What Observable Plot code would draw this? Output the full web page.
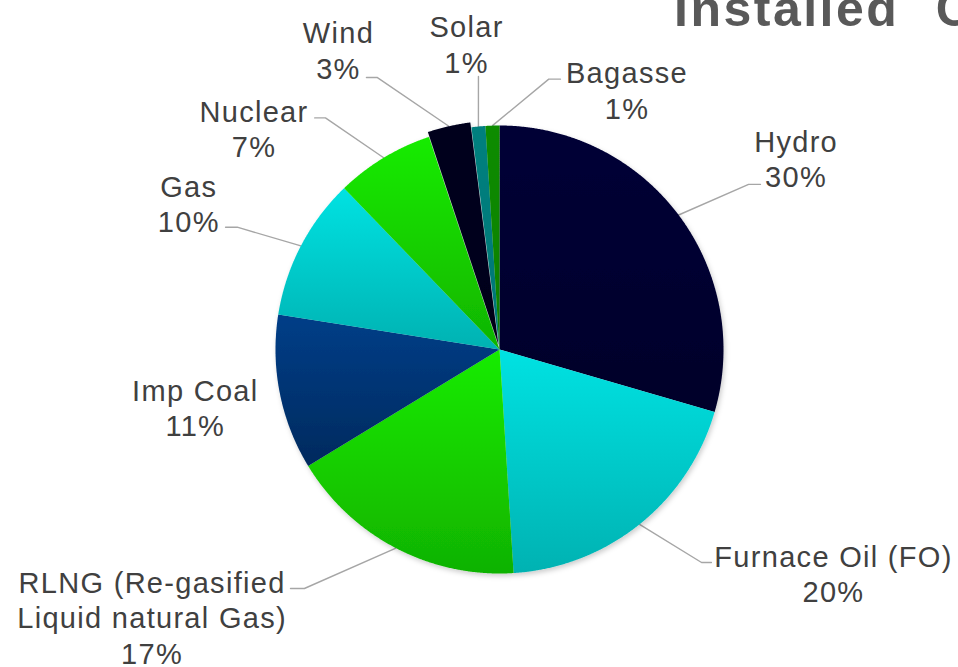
<!DOCTYPE html>
<html><head><meta charset="utf-8">
<script src="https://cdn.jsdelivr.net/npm/d3@7"></script>
<script src="https://cdn.jsdelivr.net/npm/@observablehq/plot@0.6"></script>
<style>
html,body{margin:0;padding:0;background:#fff;overflow:hidden;}
</style></head><body><div id="chart"></div>
<script>
// ---- data ----
const sources = ["Hydro","Furnace Oil (FO)","RLNG (Re-gasified Liquid natural Gas)","Imp Coal","Gas","Nuclear","Wind","Solar","Bagasse"];
const shares = [29.5,19.5,17.3,11.2,10.3,7.1,3.1,1.0,1.0];
const labelText = ["Hydro","Furnace Oil (FO)","RLNG (Re-gasified\nLiquid natural Gas)","Imp Coal","Gas","Nuclear","Wind","Solar","Bagasse"];
const titleText = "Installed Capacity";

// ---- styles ----
const topColors    = ["#050536","#00e2e2","#19ec00","#053e88","#00e2e2","#19ec00","#04041f","#00807f","#0a8c00"];
const bottomColors = ["#03032a","#00b2b2","#10b200","#032a5e","#00b2b2","#10b400","#030318","#007676","#087f00"];

// ---- layout (in pie-radius units, origin at pie centre) ----
const explode = [0,0,0,0,0,0,0.022,0,0];
const labelAt = [[1.324,0.902],[1.491,-0.951],[-1.551,-1.066],[-1.358,-0.208],[-1.387,0.702],[-1.096,1.037],[-0.719,1.387],[-0.147,1.414],[0.569,1.208]];
const elbowAt = [[1.112,0.737],[0.902,-0.951],[-0.871,-1.067],null,[-1.171,0.546],[-0.777,1.034],[-0.545,1.214],[-0.094,1.219],[0.220,1.207]];
const endAt   = [[1.165,0.737],[0.946,-0.951],[-0.933,-1.067],null,[-1.223,0.546],[-0.825,1.034],[-0.594,1.214],[-0.094,1.219],[0.272,1.207]];

const total = d3.sum(shares);
let acc = 0;
const slices = sources.map((s, i) => {
  const a0 = acc / total * 2 * Math.PI; acc += shares[i];
  const a1 = acc / total * 2 * Math.PI;
  return {i, s, a0, a1, mid: (a0 + a1) / 2};
});

const wedgePts = [];
for (const sl of slices) {
  const ox = explode[sl.i] * Math.sin(sl.mid), oy = explode[sl.i] * Math.cos(sl.mid);
  wedgePts.push({key: sl.s, i: sl.i, x: ox, y: oy});
  const n = Math.max(2, Math.ceil((sl.a1 - sl.a0) / (Math.PI / 720)));
  for (let k = 0; k <= n; k++) {
    const a = sl.a0 + (sl.a1 - sl.a0) * k / n;
    wedgePts.push({key: sl.s, i: sl.i, x: ox + Math.sin(a), y: oy + Math.cos(a)});
  }
  wedgePts.push({key: sl.s, i: sl.i, x: ox, y: oy});
}

const leaderPts = [];
for (const sl of slices) {
  if (!elbowAt[sl.i]) continue;
  const r = 1 + explode[sl.i];
  leaderPts.push({key: sl.s, x: r * Math.sin(sl.mid), y: r * Math.cos(sl.mid)});
  leaderPts.push({key: sl.s, x: elbowAt[sl.i][0], y: elbowAt[sl.i][1]});
  leaderPts.push({key: sl.s, x: endAt[sl.i][0], y: endAt[sl.i][1]});
}

const labels = slices.map(sl => ({
  x: labelAt[sl.i][0], y: labelAt[sl.i][1],
  text: labelText[sl.i] + "\n" + Math.round(shares[sl.i] / total * 100) + "%"
}));

const FS = 29;
const plot = Plot.plot({
  width: 958, height: 667,
  marginLeft: 275, marginRight: 235, marginTop: 125, marginBottom: 94,
  x: {domain: [-1, 1], axis: null},
  y: {domain: [-1, 1], axis: null},
  color: {domain: sources, range: topColors},
  style: {fontFamily: "'Liberation Sans', Arial, sans-serif", letterSpacing: "1.3px", background: "#fff", overflow: "hidden"},
  marks: [
    Plot.line(leaderPts, {x: "x", y: "y", z: "key", stroke: "#a6a6a6", strokeWidth: 1.4, curve: "linear"}),
    Plot.line(wedgePts, {x: "x", y: "y", z: "key", fill: "key", stroke: "none", curve: "linear"}),
    Plot.text(labels, {x: "x", y: "y", text: "text", fontSize: FS, lineHeight: 1.22, fill: "#404040",
      textAnchor: "middle", lineAnchor: "top", dy: -0.71 * FS})
  ]
});

const svg = d3.select(plot);
const defs = svg.insert("defs", ":first-child");
slices.forEach(sl => {
  const g = defs.append("linearGradient").attr("id", "grad" + sl.i)
    .attr("x1", 0).attr("y1", 0).attr("x2", 0).attr("y2", 1);
  g.append("stop").attr("offset", "0%").attr("stop-color", topColors[sl.i]);
  g.append("stop").attr("offset", "100%").attr("stop-color", bottomColors[sl.i]);
});
const f = defs.append("filter").attr("id", "pieshadow")
  .attr("x", "-10%").attr("y", "-10%").attr("width", "125%").attr("height", "125%");
f.append("feDropShadow").attr("dx", 1.5).attr("dy", 2.5).attr("stdDeviation", 2.5)
  .attr("flood-color", "#000").attr("flood-opacity", 0.2);

const lineGroups = svg.selectAll("g[aria-label=line]").nodes();
const pieG = d3.select(lineGroups[lineGroups.length - 1]);
pieG.selectAll("path").each(function(_, k) { d3.select(this).attr("fill", `url(#grad${k})`); });
pieG.attr("filter", "url(#pieshadow)");

svg.append("text").attr("x", 674).attr("y", 26).attr("text-anchor", "start")
  .attr("font-size", 50).attr("font-weight", "bold").attr("letter-spacing", "2.5px")
  .attr("word-spacing", "20px")
  .attr("fill", "#595959").text(titleText);

document.getElementById("chart").appendChild(plot);
</script>
</body></html>
